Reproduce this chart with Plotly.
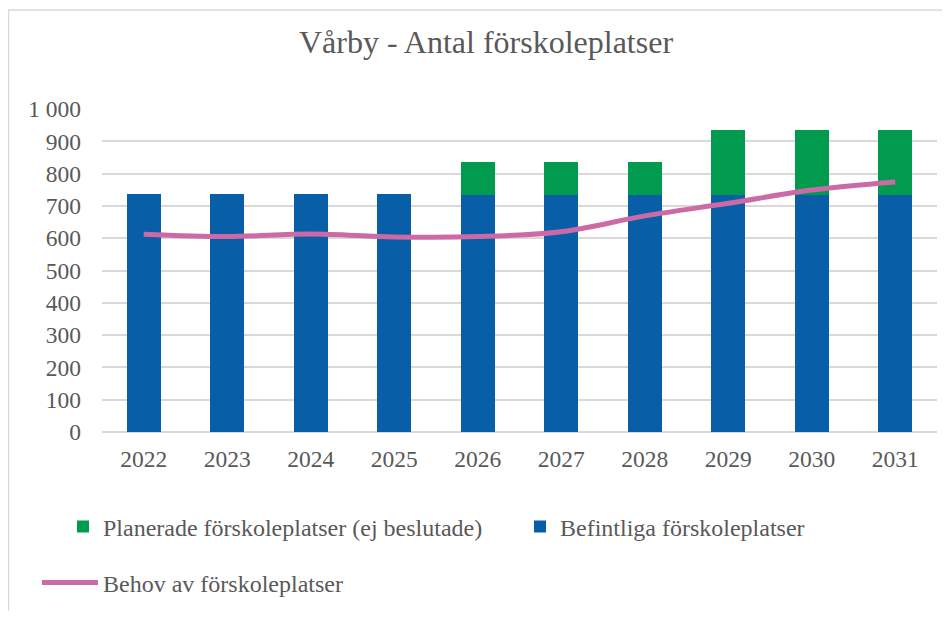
import plotly.graph_objects as go

years = ["2022", "2023", "2024", "2025", "2026", "2027", "2028", "2029", "2030", "2031"]
befintliga = [737, 737, 737, 737, 735, 735, 735, 735, 735, 735]
planerade = [0, 0, 0, 0, 100, 100, 100, 200, 200, 200]
behov = [612, 605, 613, 604, 605, 620, 669, 708, 749, 774]
y_tickvals = [0, 100, 200, 300, 400, 500, 600, 700, 800, 900, 1000]
y_ticktext = ["0", "100", "200", "300", "400", "500", "600", "700", "800", "900", "1 000"]

FONT = "Liberation Serif"
GREY = "#595959"

# page body has an 8px margin; figure coordinates = reference coordinates - 8
OFF = 8
W, H = 934, 603
L, R, T, B = 102 - OFF, W - (937 - OFF), 109 - OFF, H - (432 - OFF)
PW = W - L - R
PH = H - T - B


def px_x(p):
    return (p - OFF - L) / PW


def px_y(p):
    return (H - B - (p - OFF)) / PH


fig = go.Figure()
fig.add_trace(go.Bar(x=years, y=befintliga, name="Befintliga förskoleplatser",
                     marker=dict(color="#095ea8", line=dict(width=0)), legend="legend3"))
fig.add_trace(go.Bar(x=years, y=planerade, name="Planerade förskoleplatser (ej beslutade)",
                     marker=dict(color="#009b4e", line=dict(width=0)), legend="legend"))
fig.add_trace(go.Scatter(x=years, y=behov, name="Behov av förskoleplatser", mode="lines",
                         line=dict(color="#cc6aa6", width=5, shape="spline"), legend="legend2"))

leg_common = dict(orientation="h", xanchor="left", yanchor="middle",
                  font=dict(family=FONT, size=24, color=GREY), bgcolor="rgba(0,0,0,0)")

fig.update_layout(
    width=W, height=H,
    margin=dict(l=L, r=R, t=T, b=B),
    paper_bgcolor="white", plot_bgcolor="white",
    barmode="stack", bargap=0.59,
    font=dict(family=FONT, color=GREY, size=23),
    title=dict(text="Vårby - Antal förskoleplatser", x=(486 - OFF) / W, xanchor="center",
               y=1 - (42 - OFF) / H, yanchor="middle", yref="container",
               font=dict(family=FONT, size=32, color=GREY)),
    xaxis=dict(showgrid=False, showline=False, ticks="", ticklabelstandoff=10,
               tickfont=dict(family=FONT, size=23.5, color=GREY)),
    yaxis=dict(range=[0, 1000], tickvals=y_tickvals, ticktext=y_ticktext,
               showgrid=True, gridcolor="#d9d9d9", gridwidth=1.8,
               zeroline=True, zerolinecolor="#d9d9d9", zerolinewidth=1.8,
               showline=False, ticks="", ticklabelstandoff=20,
               tickfont=dict(family=FONT, size=23.5, color=GREY)),
    legend=dict(x=px_x(63), y=px_y(527), **leg_common),
    legend3=dict(x=px_x(520), y=px_y(527), **leg_common),
    legend2=dict(x=px_x(37), y=px_y(583), itemwidth=56, **leg_common),
    showlegend=True,
    shapes=[
        dict(type="line", xref="paper", yref="paper", x0=px_x(8), x1=px_x(960), y0=px_y(10), y1=px_y(10),
             line=dict(color="#d9d9d9", width=1.5)),
        dict(type="line", xref="paper", yref="paper", x0=px_x(8.5), x1=px_x(8.5), y0=px_y(10), y1=px_y(640),
             line=dict(color="#d9d9d9", width=1.5)),
    ],
)

fig.write_html("out.html")
